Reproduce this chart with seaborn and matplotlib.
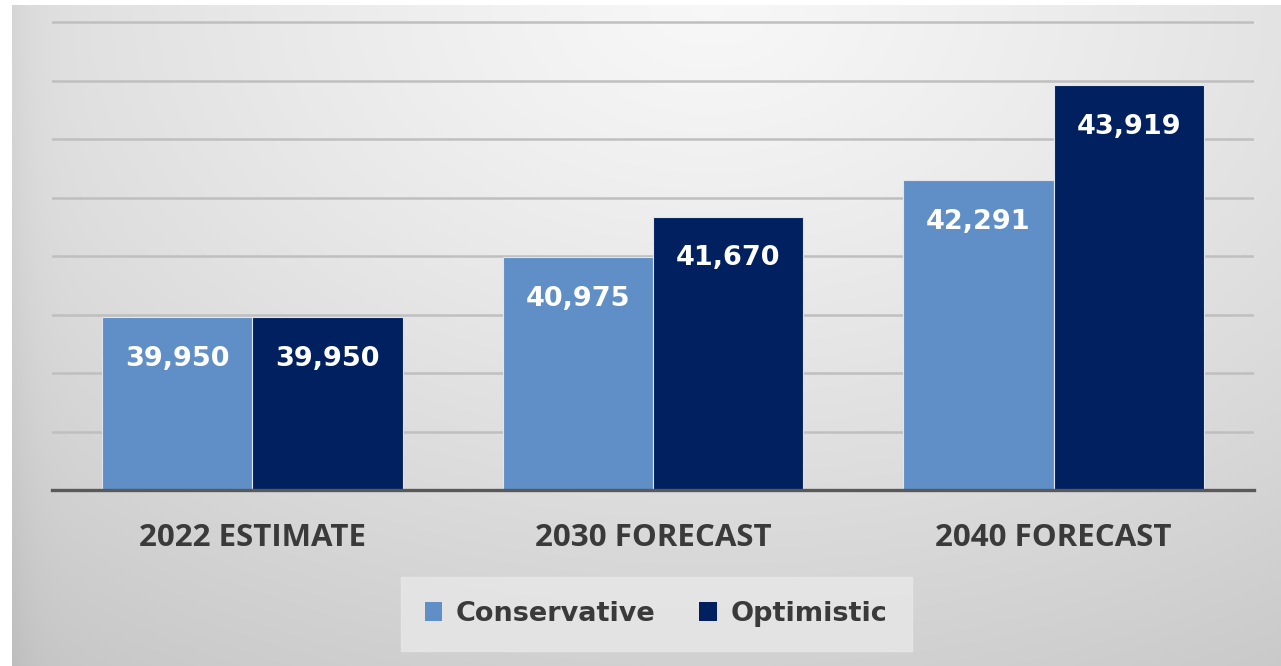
import numpy as np
import pandas as pd
import matplotlib
matplotlib.use("Agg")
import matplotlib.pyplot as plt
from matplotlib.patches import Patch
import seaborn as sns

# Population scenarios
periods = ["2022 ESTIMATE", "2030 FORECAST", "2040 FORECAST"]
conservative = [39950, 40975, 42291]
optimistic = [39950, 41670, 43919]
scenarios = ["Conservative", "Optimistic"]
colors = ["#5F8FC6", "#002060"]

df = pd.DataFrame({
    "period": periods * 2,
    "value": conservative + optimistic,
    "scenario": [scenarios[0]] * 3 + [scenarios[1]] * 3,
})

sns.set_theme(style="white")
plt.rcParams["font.family"] = ["DejaVu Sans"]

W, H = 1281, 666
fig = plt.figure(figsize=(W / 100, H / 100), dpi=100)
fig.patch.set_facecolor("white")

# Soft grey radial backdrop
bg = fig.add_axes([12 / W, 0, (W - 12) / W, (H - 5) / H])
ny, nx = 400, 800
yy, xx = np.mgrid[0:1:ny * 1j, 0:1:nx * 1j]
d = np.sqrt(((xx - 0.55) * 1.3) ** 2 + (yy * 1.0) ** 2)
shade = 0.97 - 0.15 * d ** 1.2
shade -= 0.035 * np.exp(-xx / 0.015)
rgb = np.dstack([shade, shade, shade])
bg.imshow(np.clip(rgb, 0, 1), aspect="auto", extent=[0, 1, 1, 0])
bg.set_axis_off()

ymin, ymax = 37000, 45000
px_per_unit = 468 / (ymax - ymin)
top_pad = 3 / px_per_unit
ax = fig.add_axes([52 / W, (H - 490) / H, 1202 / W, 471 / H])
ax.set_facecolor("none")

sns.barplot(data=df, x="period", y="value", hue="scenario", order=periods,
            hue_order=scenarios, palette=colors, saturation=1, width=0.75,
            ax=ax, legend=False, edgecolor="#dfe6f0", linewidth=0.8, zorder=3)

ax.set_ylim(ymin, ymax + top_pad)
ax.set_xlim(-0.5, 2.5)
ax.set_yticks(np.arange(ymin, ymax + 1, 1000))
ax.set_yticklabels([])
ax.yaxis.grid(True, color="#bfbfbf", linewidth=1.8, zorder=0)
ax.set_axisbelow(True)
ax.set_xlabel("")
ax.set_ylabel("")
for s in ["top", "right", "left"]:
    ax.spines[s].set_visible(False)
ax.spines["bottom"].set_color("#595959")
ax.spines["bottom"].set_linewidth(2.4)
ax.spines["bottom"].set_zorder(4)
ax.tick_params(axis="both", length=0)
ax.tick_params(axis="x", pad=24)
for lbl in ax.get_xticklabels():
    lbl.set_fontfamily("Open Sans")
    lbl.set_fontweight("bold")
    lbl.set_fontsize(22.5)
    lbl.set_color("#3a3a3a")

for container, vals in zip(ax.containers, [conservative, optimistic]):
    for bar, v in zip(container, vals):
        ax.annotate(f"{v:,}", (bar.get_x() + bar.get_width() / 2, v),
                    xytext=(0, -30), textcoords="offset points",
                    ha="center", va="center", color="white",
                    fontsize=19.5, fontweight="bold", zorder=5)

handles = [Patch(facecolor=c, edgecolor="none") for c in colors]
leg = fig.legend(handles, scenarios, loc="center",
                 bbox_to_anchor=(656 / W, 1 - 614 / H), ncol=2,
                 frameon=True, fancybox=False, facecolor="#e8e8e8",
                 edgecolor="#e8e8e8", handlelength=0.65, handleheight=0.65,
                 handletextpad=0.5, columnspacing=1.6, borderpad=0.9,
                 prop={"weight": "bold", "size": 19.5})
for t in leg.get_texts():
    t.set_color("#3a3a3a")

fig.savefig("out.png", dpi=100)
